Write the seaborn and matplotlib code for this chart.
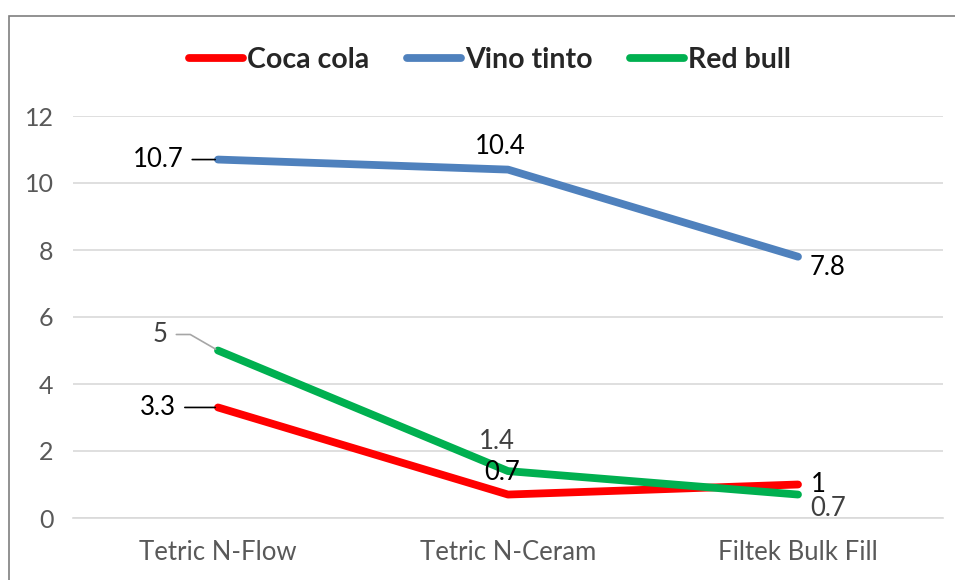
import pandas as pd
import matplotlib
matplotlib.use("Agg")
import matplotlib.pyplot as plt
import seaborn as sns
from matplotlib.patches import Rectangle

# datos
materiales = ["Tetric N-Flow", "Tetric N-Ceram", "Filtek Bulk Fill"]
coca_cola = [3.3, 0.7, 1.0]
vino_tinto = [10.7, 10.4, 7.8]
red_bull = [5.0, 1.4, 0.7]
bebidas = ["Coca cola", "Vino tinto", "Red bull"]
colores = ["#FF0000", "#4F81BD", "#00B050"]

df = pd.DataFrame({
    "material": materiales * 3,
    "x": list(range(3)) * 3,
    "valor": coca_cola + vino_tinto + red_bull,
    "bebida": [b for b in bebidas for _ in range(3)],
})

sns.set_style("white")
plt.rcParams["font.family"] = ["Lato", "DejaVu Sans"]

fig = plt.figure(figsize=(9.55, 5.8), dpi=100)
ax = fig.add_axes([73 / 955, 1 - 518 / 580, 870 / 955, 402 / 580])

sns.lineplot(data=df, x="x", y="valor", hue="bebida", palette=colores,
             linewidth=5.6, ax=ax, legend=False, solid_capstyle="round", zorder=3)

ax.set_xlim(-0.5, 2.5)
ax.set_ylim(0, 12)
ax.set_yticks(range(0, 13, 2))
ax.set_xticks(range(3))
ax.set_xticklabels(materiales)
ax.set_xticks([-0.5, 0.5, 1.5, 2.5], minor=True)
ax.set_xlabel("")
ax.set_ylabel("")
ax.grid(axis="y", color="#D9D9D9", linewidth=1.2, zorder=0)
for s in ["top", "right", "left"]:
    ax.spines[s].set_visible(False)
ax.spines["bottom"].set_color("#D9D9D9")
ax.spines["bottom"].set_linewidth(1.2)
ax.tick_params(axis="both", which="major", length=0, labelsize=18, labelcolor="#595959", pad=14)
ax.tick_params(axis="x", which="major", pad=16, labelsize=18.5)
ax.tick_params(axis="x", which="minor", length=8, color="#D9D9D9", width=1.2)

# etiquetas de datos
etiquetas = [
    (0, coca_cola[0], "3.3", (-60, 0), "black", True),
    (1, coca_cola[1], "0.7", (-6, 22), "black", False),
    (2, coca_cola[2], "1", (20, 0), "black", False),
    (0, vino_tinto[0], "10.7", (-60, 0), "black", True),
    (1, vino_tinto[1], "10.4", (-8, 23), "black", False),
    (2, vino_tinto[2], "7.8", (30, -11), "black", False),
    (0, red_bull[0], "5", (-58, 16), "#404040", True),
    (1, red_bull[1], "1.4", (-11, 30), "#404040", False),
    (2, red_bull[2], "0.7", (30, -14), "#404040", False),
]
for x, y, txt, off, col, lider in etiquetas:
    props = None
    if lider:
        props = dict(arrowstyle="-", color="black" if col == "black" else "#A6A6A6",
                     lw=1.2, shrinkA=4, shrinkB=2,
                     connectionstyle="angle,angleA=0,angleB=150,rad=0" if txt == "5" else "arc3")
    ax.annotate(txt, (x, y), xytext=off, textcoords="offset pixels",
                ha="center", va="center", fontsize=18.5, color=col,
                arrowprops=props, zorder=4)

# leyenda
manijas = [plt.Line2D([], [], color=c, lw=5.6, solid_capstyle="round") for c in colores]
leg = fig.legend(manijas, bebidas, loc="center", ncol=3, frameon=False,
                 bbox_to_anchor=(0.513, 1 - 60 / 580), handlelength=1.9,
                 handletextpad=0.15, columnspacing=1.3,
                 prop={"weight": "bold", "size": 20.5})

# borde del gráfico
fig.patches.append(Rectangle((9 / 955, -0.1), 1.2, 1 - 16 / 580 + 0.1,
                             transform=fig.transFigure, fill=False,
                             edgecolor="#7F7F7F", linewidth=1.2))

fig.savefig("out.png", dpi=100)
